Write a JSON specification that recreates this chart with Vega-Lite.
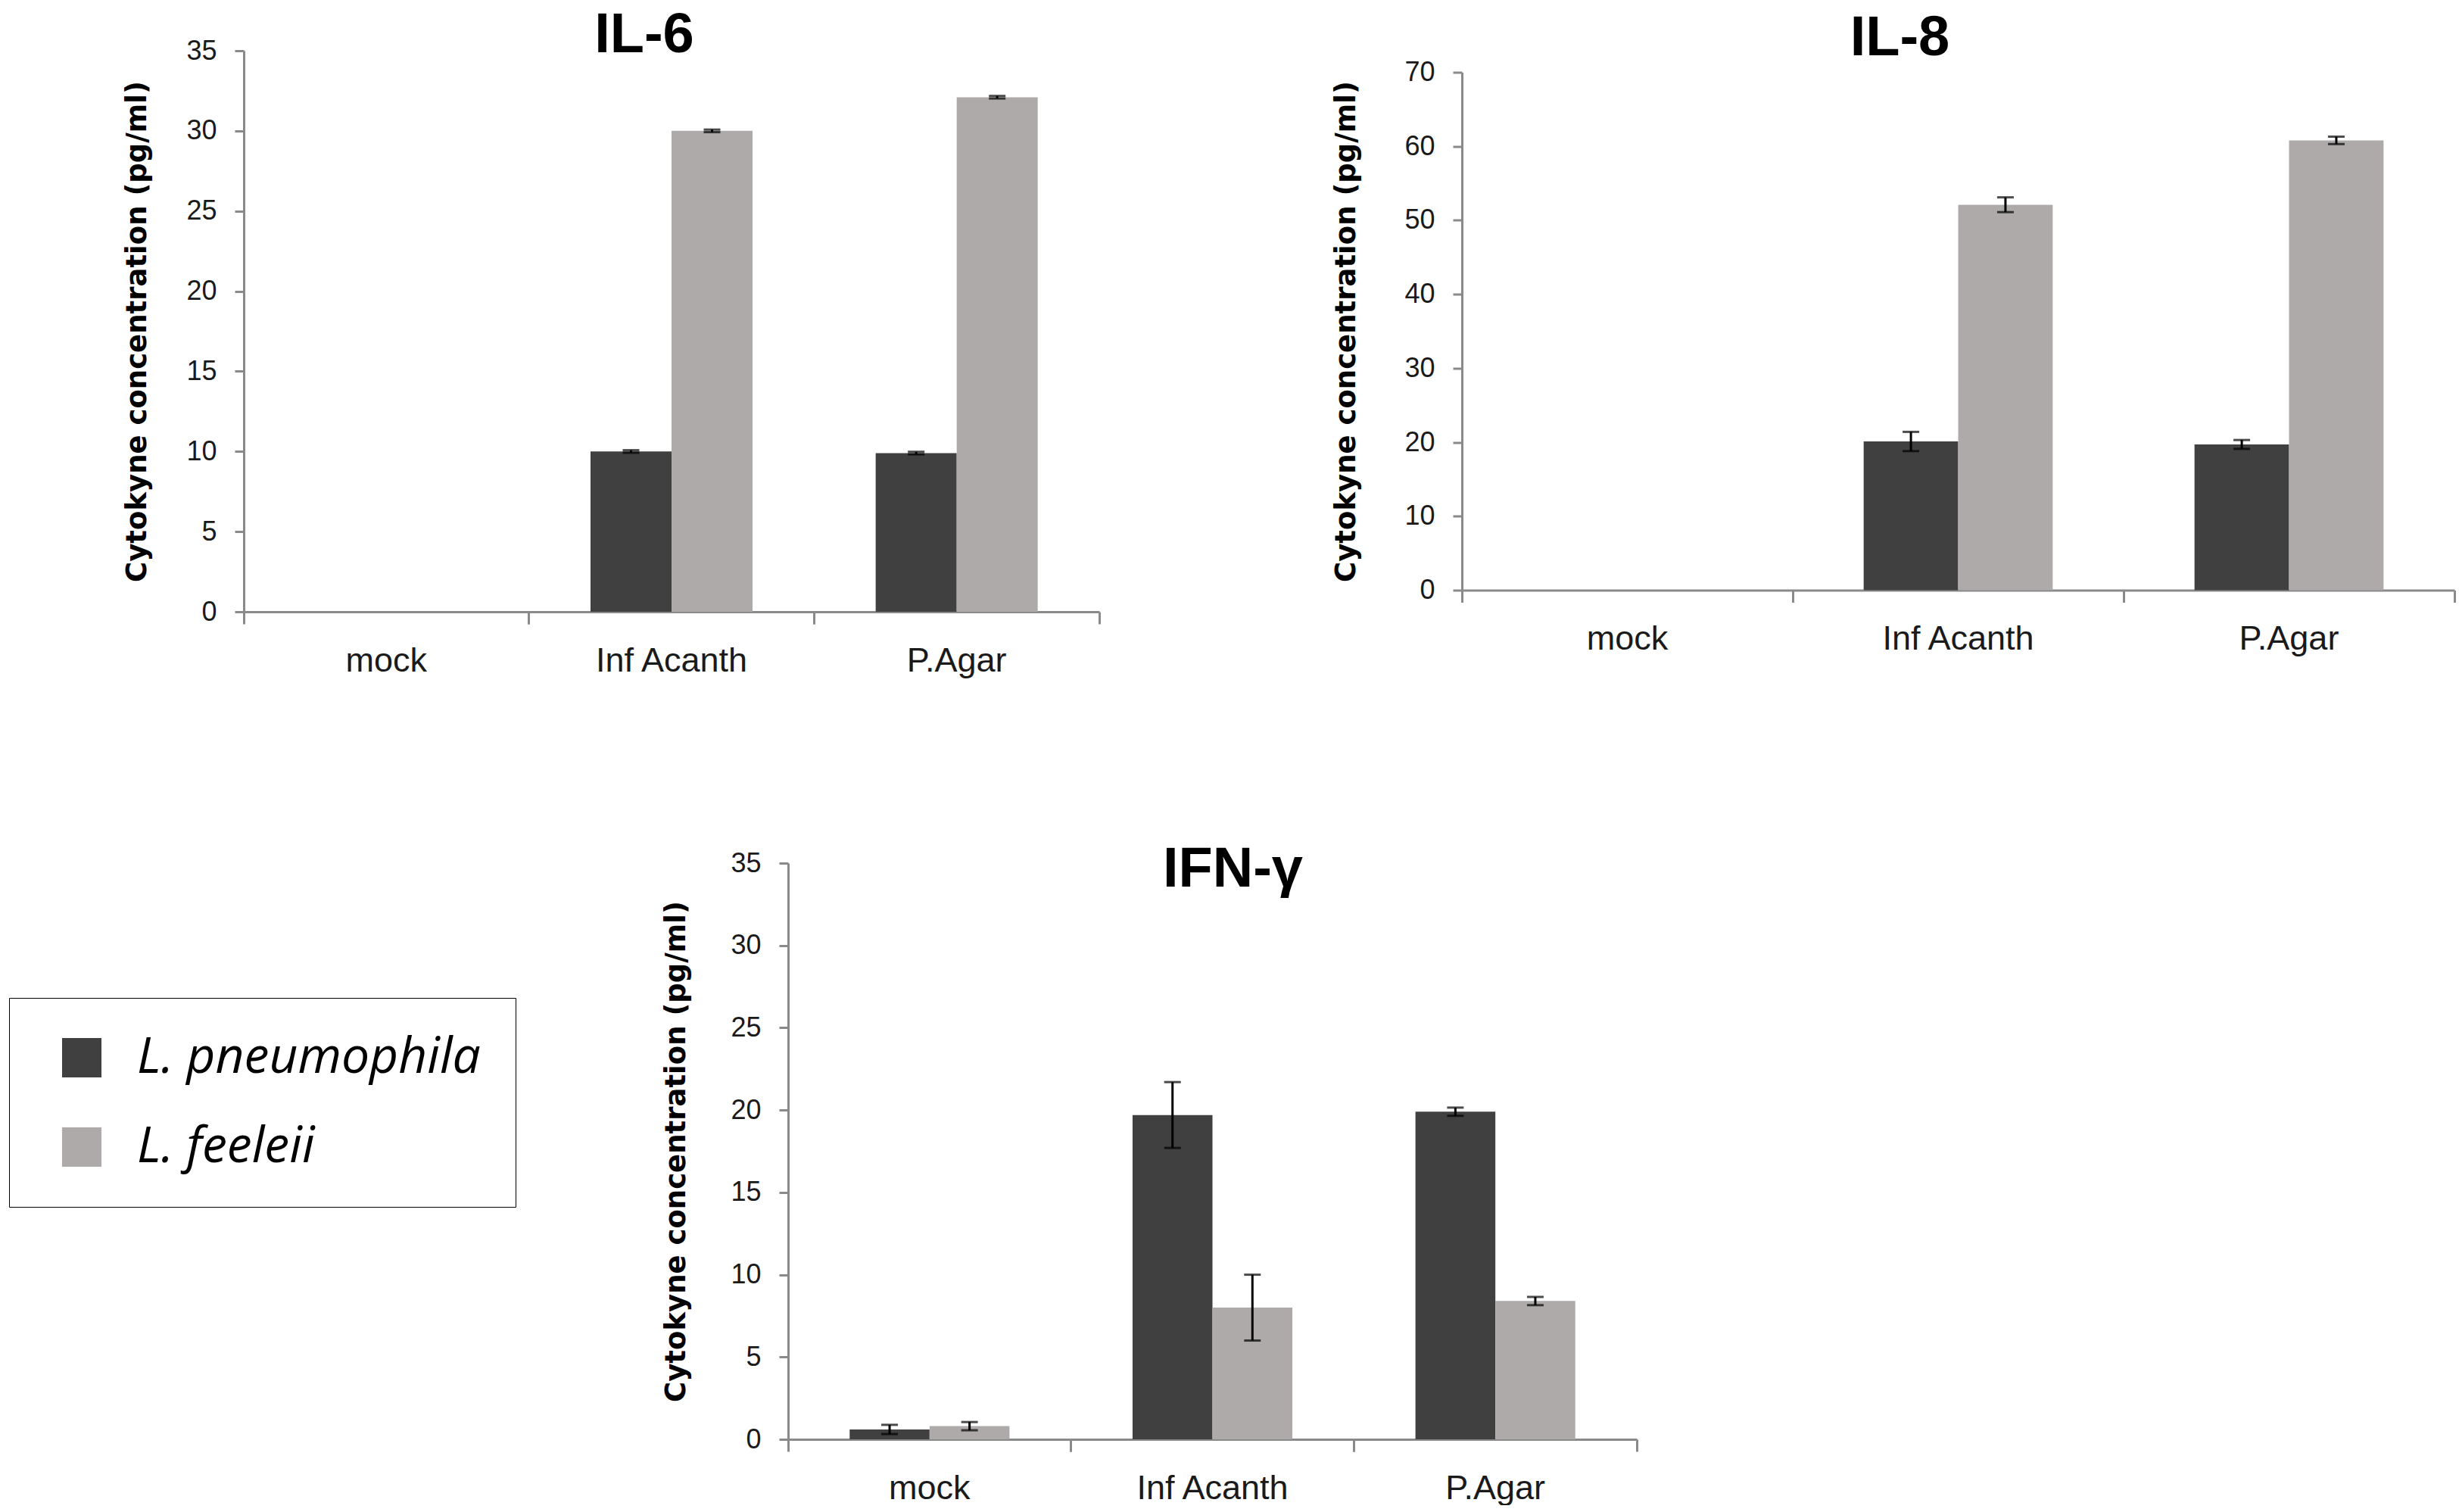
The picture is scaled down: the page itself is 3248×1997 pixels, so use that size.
{
  "$schema": "https://vega.github.io/schema/vega-lite/v6.json",
  "padding": {"left": 11, "top": 10, "right": 0, "bottom": 0},
  "background": "white",
  "data": {"values": [
    {"cyt": "IL-6", "cond": "Inf Acanth", "sp": "L. pneumophila", "v": 10.0, "lo": 9.92, "hi": 10.08},
    {"cyt": "IL-6", "cond": "Inf Acanth", "sp": "L. feeleii", "v": 30.0, "lo": 29.92, "hi": 30.08},
    {"cyt": "IL-6", "cond": "P.Agar", "sp": "L. pneumophila", "v": 9.9, "lo": 9.82, "hi": 9.98},
    {"cyt": "IL-6", "cond": "P.Agar", "sp": "L. feeleii", "v": 32.1, "lo": 32.02, "hi": 32.18},
    {"cyt": "IL-8", "cond": "Inf Acanth", "sp": "L. pneumophila", "v": 20.1, "lo": 18.8, "hi": 21.4},
    {"cyt": "IL-8", "cond": "Inf Acanth", "sp": "L. feeleii", "v": 52.1, "lo": 51.1, "hi": 53.1},
    {"cyt": "IL-8", "cond": "P.Agar", "sp": "L. pneumophila", "v": 19.7, "lo": 19.1, "hi": 20.3},
    {"cyt": "IL-8", "cond": "P.Agar", "sp": "L. feeleii", "v": 60.8, "lo": 60.3, "hi": 61.3},
    {"cyt": "IFN", "cond": "mock", "sp": "L. pneumophila", "v": 0.6, "lo": 0.32, "hi": 0.88},
    {"cyt": "IFN", "cond": "mock", "sp": "L. feeleii", "v": 0.8, "lo": 0.55, "hi": 1.05},
    {"cyt": "IFN", "cond": "Inf Acanth", "sp": "L. pneumophila", "v": 19.7, "lo": 17.7, "hi": 21.7},
    {"cyt": "IFN", "cond": "Inf Acanth", "sp": "L. feeleii", "v": 8.0, "lo": 6.0, "hi": 10.0},
    {"cyt": "IFN", "cond": "P.Agar", "sp": "L. pneumophila", "v": 19.9, "lo": 19.65, "hi": 20.15},
    {"cyt": "IFN", "cond": "P.Agar", "sp": "L. feeleii", "v": 8.4, "lo": 8.15, "hi": 8.65}
  ]},
  "spacing": 217,
  "resolve": {
    "scale": {"x": "independent", "y": "independent", "xOffset": "independent", "color": "independent"},
    "axis": {"x": "independent", "y": "independent"},
    "legend": {"color": "independent"}
  },
  "vconcat": [
    {
      "hconcat": [
        {
          "width": 1130, "height": 741,
          "title": {"text": "IL-6", "dx": -36, "offset": -36},
          "transform": [{"filter": {"field": "cyt", "equal": "IL-6"}}],
          "encoding": {
            "x": {"field": "cond", "type": "nominal", "sort": null, "scale": {"domain": ["mock", "Inf Acanth", "P.Agar"], "paddingInner": 0, "paddingOuter": 0}},
            "xOffset": {"field": "sp", "type": "nominal", "sort": null, "scale": {"domain": ["L. pneumophila", "L. feeleii"], "paddingInner": 0, "paddingOuter": 0.76}}
          },
          "layer": [
            {
              "mark": {"type": "bar"},
              "encoding": {
                "x": {"field": "cond", "type": "nominal", "sort": null, "axis": {"orient": "bottom", "title": null, "ticks": false, "tickSize": 0, "labelPadding": 42, "labelAngle": 0, "labelLimit": 500}},
                "y": {"field": "v", "type": "quantitative", "scale": {"domain": [0, 35], "nice": false}, "axis": {"title": "Cytokyne concentration (pg/ml)", "values": [0, 5, 10, 15, 20, 25, 30, 35], "titlePadding": 45}},
                "color": {"field": "sp", "type": "nominal", "sort": null, "scale": {"domain": ["L. pneumophila", "L. feeleii"], "range": ["#404040", "#aeaaaa"]}, "legend": null}
              }
            },
            {
              "mark": {"type": "rule", "strokeWidth": 3, "color": "black"},
              "encoding": {
                "x": {"field": "cond", "type": "nominal", "sort": null, "axis": {"orient": "bottom", "title": null, "labels": false, "domain": false, "ticks": true, "tickSize": 16, "bandPosition": 0}},
                "y": {"field": "lo", "type": "quantitative"},
                "y2": {"field": "hi"}
              }
            },
            {
              "mark": {"type": "tick", "orient": "horizontal", "size": 22, "thickness": 3, "color": "black"},
              "encoding": {
                "x": {"field": "cond", "type": "nominal", "sort": null, "axis": {"orient": "bottom", "title": null, "labels": false, "domain": false, "ticks": true, "tickSize": 16, "bandPosition": 1}},
                "y": {"field": "hi", "type": "quantitative"}
              }
            },
            {
              "mark": {"type": "tick", "orient": "horizontal", "size": 22, "thickness": 3, "color": "black"},
              "encoding": {
                "x": {"field": "cond", "type": "nominal", "sort": null, "axis": null},
                "y": {"field": "lo", "type": "quantitative"}
              }
            }
          ],
          "resolve": {"axis": {"x": "independent"}}
        },
        {
          "width": 1311, "height": 684,
          "title": {"text": "IL-8", "dx": -77, "offset": -11},
          "transform": [{"filter": {"field": "cyt", "equal": "IL-8"}}],
          "encoding": {
            "x": {"field": "cond", "type": "nominal", "sort": null, "scale": {"domain": ["mock", "Inf Acanth", "P.Agar"], "paddingInner": 0, "paddingOuter": 0}},
            "xOffset": {"field": "sp", "type": "nominal", "sort": null, "scale": {"domain": ["L. pneumophila", "L. feeleii"], "paddingInner": 0, "paddingOuter": 0.75}}
          },
          "layer": [
            {
              "mark": {"type": "bar"},
              "encoding": {
                "x": {"field": "cond", "type": "nominal", "sort": null, "axis": {"orient": "bottom", "title": null, "ticks": false, "tickSize": 0, "labelPadding": 42, "labelAngle": 0, "labelLimit": 500}},
                "y": {"field": "v", "type": "quantitative", "scale": {"domain": [0, 70], "nice": false}, "axis": {"title": "Cytokyne concentration (pg/ml)", "values": [0, 10, 20, 30, 40, 50, 60, 70], "titlePadding": 57}},
                "color": {"field": "sp", "type": "nominal", "sort": null, "scale": {"domain": ["L. pneumophila", "L. feeleii"], "range": ["#404040", "#aeaaaa"]}, "legend": null}
              }
            },
            {
              "mark": {"type": "rule", "strokeWidth": 3, "color": "black"},
              "encoding": {
                "x": {"field": "cond", "type": "nominal", "sort": null, "axis": {"orient": "bottom", "title": null, "labels": false, "domain": false, "ticks": true, "tickSize": 16, "bandPosition": 0}},
                "y": {"field": "lo", "type": "quantitative"},
                "y2": {"field": "hi"}
              }
            },
            {
              "mark": {"type": "tick", "orient": "horizontal", "size": 22, "thickness": 3, "color": "black"},
              "encoding": {
                "x": {"field": "cond", "type": "nominal", "sort": null, "axis": {"orient": "bottom", "title": null, "labels": false, "domain": false, "ticks": true, "tickSize": 16, "bandPosition": 1}},
                "y": {"field": "hi", "type": "quantitative"}
              }
            },
            {
              "mark": {"type": "tick", "orient": "horizontal", "size": 22, "thickness": 3, "color": "black"},
              "encoding": {
                "x": {"field": "cond", "type": "nominal", "sort": null, "axis": null},
                "y": {"field": "lo", "type": "quantitative"}
              }
            }
          ],
          "resolve": {"axis": {"x": "independent"}}
        }
      ],
      "bounds": "flush",
      "center": true,
      "spacing": 479,
      "resolve": {
        "scale": {"x": "independent", "y": "independent", "xOffset": "independent", "color": "independent"},
        "axis": {"x": "independent", "y": "independent"},
        "legend": {"color": "independent"}
      }
    },
    {
      "hconcat": [
        {
          "width": 240, "height": 1,
          "data": {"values": [{"k": 1}]},
          "mark": {"type": "point", "opacity": 0}
        },
        {
          "width": 1121, "height": 761,
          "title": {"text": "IFN-γ", "dx": 27, "offset": -65},
          "transform": [{"filter": {"field": "cyt", "equal": "IFN"}}],
          "encoding": {
            "x": {"field": "cond", "type": "nominal", "sort": null, "scale": {"domain": ["mock", "Inf Acanth", "P.Agar"], "paddingInner": 0, "paddingOuter": 0}},
            "xOffset": {"field": "sp", "type": "nominal", "sort": null, "scale": {"domain": ["L. pneumophila", "L. feeleii"], "paddingInner": 0, "paddingOuter": 0.77}}
          },
          "layer": [
            {
              "mark": {"type": "bar"},
              "encoding": {
                "x": {"field": "cond", "type": "nominal", "sort": null, "axis": {"orient": "bottom", "title": null, "ticks": false, "tickSize": 0, "labelPadding": 42, "labelAngle": 0, "labelLimit": 500}},
                "y": {"field": "v", "type": "quantitative", "scale": {"domain": [0, 35], "nice": false}, "axis": {"title": "Cytokyne concentration (pg/ml)", "values": [0, 5, 10, 15, 20, 25, 30, 35], "titlePadding": 52}},
                "color": {"field": "sp", "type": "nominal", "sort": null, "scale": {"domain": ["L. pneumophila", "L. feeleii"], "range": ["#404040", "#aeaaaa"]},
                  "legend": {"orient": "none", "legendX": -1029, "legendY": 178, "title": null, "symbolType": "square", "symbolSize": 2704, "symbolStrokeWidth": 0, "symbolOpacity": 1, "symbolOffset": 17, "labelFont": "Open Sans", "labelFontStyle": "italic", "labelFontSize": 66, "labelColor": "black", "labelOffset": 40, "labelLimit": 1000, "padding": 46, "rowPadding": 52, "strokeColor": "black", "fillColor": "white", "cornerRadius": 0}}
              }
            },
            {
              "mark": {"type": "rule", "strokeWidth": 3, "color": "black"},
              "encoding": {
                "x": {"field": "cond", "type": "nominal", "sort": null, "axis": {"orient": "bottom", "title": null, "labels": false, "domain": false, "ticks": true, "tickSize": 16, "bandPosition": 0}},
                "y": {"field": "lo", "type": "quantitative"},
                "y2": {"field": "hi"}
              }
            },
            {
              "mark": {"type": "tick", "orient": "horizontal", "size": 22, "thickness": 3, "color": "black"},
              "encoding": {
                "x": {"field": "cond", "type": "nominal", "sort": null, "axis": {"orient": "bottom", "title": null, "labels": false, "domain": false, "ticks": true, "tickSize": 16, "bandPosition": 1}},
                "y": {"field": "hi", "type": "quantitative"}
              }
            },
            {
              "mark": {"type": "tick", "orient": "horizontal", "size": 22, "thickness": 3, "color": "black"},
              "encoding": {
                "x": {"field": "cond", "type": "nominal", "sort": null, "axis": null},
                "y": {"field": "lo", "type": "quantitative"}
              }
            }
          ],
          "resolve": {"axis": {"x": "independent"}}
        }
      ],
      "bounds": "flush",
      "spacing": 479,
      "resolve": {
        "scale": {"x": "independent", "y": "independent", "xOffset": "independent", "color": "independent"},
        "axis": {"x": "independent", "y": "independent"},
        "legend": {"color": "independent"}
      }
    }
  ],
  "config": {
    "view": {"stroke": null},
    "font": "Liberation Sans",
    "title": {"font": "Liberation Sans Narrow, Liberation Sans", "fontWeight": "bold", "fontSize": 74, "color": "black", "anchor": "middle", "frame": "group", "baseline": "alphabetic"},
    "axis": {
      "grid": false,
      "domainColor": "#8a8a8a", "domainWidth": 3,
      "tickColor": "#8a8a8a", "tickWidth": 3,
      "labelFont": "Liberation Sans", "labelColor": "#1a1a1a"
    },
    "axisX": {"labelFontSize": 45},
    "axisY": {"labelFontSize": 36, "tickSize": 12, "labelPadding": 24, "titleFont": "DejaVu Sans", "titleFontWeight": "bold", "titleFontSize": 37, "titleColor": "black"}
  }
}
